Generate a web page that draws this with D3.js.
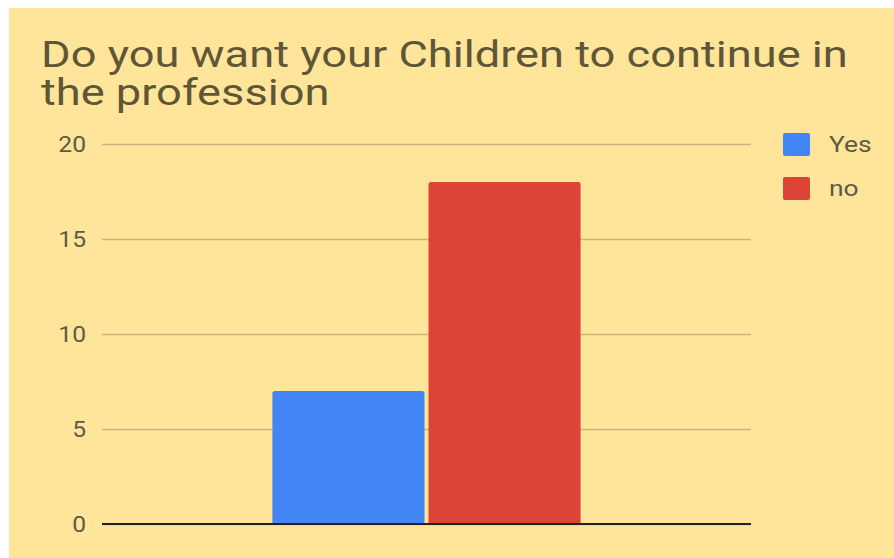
<!DOCTYPE html>
<html><head><meta charset="utf-8">
<script src="https://cdn.jsdelivr.net/npm/d3@7"></script>
<style>html,body{margin:0;padding:0;background:#fff;}svg{display:block;}</style>
</head><body><svg id="c" width="894" height="558"></svg>
<script>
const titleLines = ["Do you want your Children to continue in", "the profession"];
const categories = [""];
const seriesNames = ["Yes", "no"];
const seriesValues = [[7], [18]];
const seriesColors = ["#4285F4", "#DB4437"];
const yTicks = [0, 5, 10, 15, 20];

const svg = d3.select("#c");
svg.append("rect").attr("x", 9).attr("y", 8).attr("width", 885).attr("height", 550).attr("fill", "#FFE599");

const font = "Roboto, 'Open Sans', sans-serif";
const SX = 1.19;
titleLines.forEach((t, i) => {
  svg.append("text").attr("font-family", font).attr("font-size", 37).attr("fill", "#5f5637")
    .attr("transform", `translate(41,${67 + i * 38}) scale(${SX * 38 / 37},1)`).text(t);
});

const m = {l: 102, r: 751, t: 144, b: 524};
const y = d3.scaleLinear().domain([0, 20]).range([m.b, m.t]);
const x0 = d3.scaleBand().domain(categories).range([m.l, m.r]).paddingInner(0).paddingOuter(0.553);
const x1 = d3.scaleBand().domain(seriesNames).range([0, x0.bandwidth()]).paddingInner(0.026);

const yAxis = d3.axisLeft(y).tickValues(yTicks).tickSize(-(m.r - m.l)).tickFormat("");
const ga = svg.append("g").attr("transform", `translate(${m.l},0)`).call(yAxis);
ga.select(".domain").remove();
ga.selectAll(".tick line").attr("stroke", "#c9b57f").attr("stroke-width", 1.5);
yTicks.forEach(v => {
  svg.append("text").attr("font-family", font).attr("font-size", 22).attr("fill", "#5e5a48")
    .attr("text-anchor", "end")
    .attr("transform", `translate(86,${y(v) + 8}) scale(1.12,1)`).text(d3.format("d")(v));
});

categories.forEach((c, ci) => {
  seriesNames.forEach((s, si) => {
    const v = seriesValues[si][ci];
    const bx = x0(c) + x1(s), bw = x1.bandwidth(), by = y(v), bh = y(0) - y(v), r = 2.5;
    svg.append("path")
      .attr("fill", seriesColors[si])
      .attr("d", `M${bx},${by + bh}V${by + r}Q${bx},${by} ${bx + r},${by}H${bx + bw - r}Q${bx + bw},${by} ${bx + bw},${by + r}V${by + bh}Z`);
  });
});

svg.append("line").attr("x1", m.l).attr("x2", m.r).attr("y1", y(0)).attr("y2", y(0)).attr("stroke", "#222").attr("stroke-width", 2);

seriesNames.forEach((s, i) => {
  const gy = 133 + i * 44;
  svg.append("rect").attr("x", 783).attr("y", gy).attr("width", 27).attr("height", 23).attr("rx", 2).attr("fill", seriesColors[i]);
  svg.append("text").attr("font-family", font).attr("font-size", 22).attr("fill", "#5e5a48")
    .attr("transform", `translate(829,${gy + 19}) scale(1.2,1)`).text(s);
});
</script></body></html>
